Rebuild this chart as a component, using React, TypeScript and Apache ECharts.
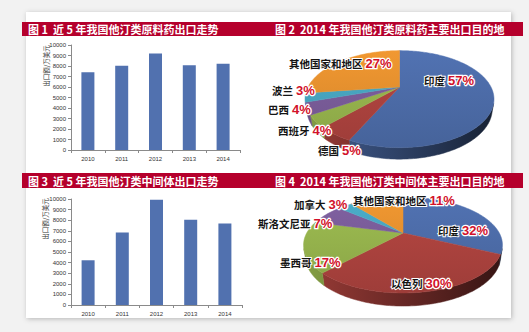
import React, { useEffect, useRef } from 'react';
import * as echarts from 'echarts';

// ---------- data ----------
const years = ['2010', '2011', '2012', '2013', '2014'];
const apiExports = [7400, 8030, 9200, 8060, 8220]; // 万美元
const intermediateExports = [4220, 6830, 9940, 8050, 7680]; // 万美元
const yMax = 10000;
const yStep = 1000;

const apiDestNames = ['印度', '德国', '西班牙', '巴西', '波兰', '其他国家和地区'];
const apiDestShares = [57, 5, 4, 4, 3, 27];
const intDestNames = ['印度', '以色列', '墨西哥', '斯洛文尼亚', '加拿大', '其他国家和地区'];
const intDestShares = [32, 30, 17, 7, 3, 11];

const titles = [
  '图 1  近 5 年我国他汀类原料药出口走势',
  '图 2  2014 年我国他汀类原料药主要出口目的地',
  '图 3  近 5 年我国他汀类中间体出口走势',
  '图 4  2014 年我国他汀类中间体主要出口目的地',
];
const yAxisTitle = '出口额/万美元';

// ---------- styles / layout ----------
const sliceColors = ['#4E6EAB', '#B0443F', '#98B64E', '#7B5D9B', '#48A7C2', '#E8922F'];
const barColor = '#5171AF';
const red = '#B5002C';

type PieLayout = { cx: number; cy: number; B: number; sinA: number; k: number; h: number; labels: number[][] };
const pie1Layout: PieLayout = {
  cx: 399.5, cy: 87, B: 91.5, sinA: 0.497, k: 0.25, h: 0.125,
  labels: [[424, 80], [318, 150], [278, 130], [268, 109], [272, 90], [289, 63]],
};
const pie2Layout: PieLayout = {
  cx: 403, cy: 233, B: 96.3, sinA: 0.467, k: 0.25, h: 0.13,
  labels: [[438, 230], [391, 283], [280, 262], [258, 223], [294, 204], [353, 200]],
};

const shade = (hex: string, f: number) => {
  const n = parseInt(hex.slice(1), 16);
  const c = (v: number) => Math.max(0, Math.min(255, Math.round(v * f)));
  return `rgb(${c((n >> 16) & 255)},${c((n >> 8) & 255)},${c(n & 255)})`;
};

const labelRich = {
  n: { fontSize: 10.5, fontWeight: 'bold', fill: '#141414', fontFamily: 'Noto Sans CJK SC', stroke: '#ffffff', lineWidth: 2 },
  p: { fontSize: 13, fontWeight: 'bold', fill: '#D2122B', fontFamily: 'Liberation Sans', stroke: '#ffffff', lineWidth: 2.5 },
};

function pieRenderer(names: string[], values: number[], L: PieLayout) {
  const total = values.reduce((a, b) => a + b, 0);
  const starts: number[] = [];
  let acc = 0;
  for (const v of values) {
    starts.push((acc / total) * 360);
    acc += v;
  }
  const cosA = Math.sqrt(1 - L.sinA * L.sinA);
  const Dn = cosA / L.k;
  const F = L.B * Dn;
  const proj = (deg: number, r: number, Y: number) => {
    const t = (deg * Math.PI) / 180;
    const X = r * Math.sin(t);
    const Z = r * Math.cos(t);
    const yc = Y * cosA + Z * L.sinA;
    const zc = Dn + Z * cosA - Y * L.sinA;
    return [L.cx + (F * X) / zc, L.cy - (F * yc) / zc];
  };
  const silh = (Math.acos(-L.k / (cosA * cosA)) * 180) / Math.PI;
  const arc = (a0: number, a1: number, Y: number) => {
    const pts: number[][] = [];
    const n = Math.max(2, Math.ceil((a1 - a0) / 1));
    for (let j = 0; j <= n; j++) pts.push(proj(a0 + ((a1 - a0) * j) / n, 1, Y));
    return pts;
  };
  const topY = L.cy - L.B * L.sinA * 0.8;
  const botY = L.cy + L.B * L.sinA * 1.35;
  return (params: any, api: any) => {
    const i = params.dataIndex;
    const v = api.value(0);
    const a0 = starts[i];
    const a1 = a0 + (v / total) * 360;
    const color = sliceColors[i % sliceColors.length];
    const children: any[] = [];
    const w0 = Math.max(a0, silh);
    const w1 = Math.min(a1, 360 - silh);
    if (w1 > w0) {
      const top = arc(w0, w1, 0);
      const bot = arc(w0, w1, -L.h).reverse();
      const wallFill = new echarts.graphic.LinearGradient(
        L.cx - L.B * 1.05, 0, L.cx + L.B * 1.05, 0,
        [
          { offset: 0, color: shade(color, 0.88) },
          { offset: 0.45, color: shade(color, 0.62) },
          { offset: 1, color: shade(color, 0.3) },
        ],
        true
      );
      children.push({
        type: 'polygon', z2: 1,
        shape: { points: top.concat(bot) },
        style: { fill: wallFill, stroke: wallFill, lineWidth: 0.5 },
      });
    }
    const face = [proj(0, 0, 0)].concat(arc(a0, a1, 0));
    const faceFill = new echarts.graphic.LinearGradient(
      0, topY, 0, botY,
      [
        { offset: 0, color: shade(color, 1.04) },
        { offset: 1, color: shade(color, 0.9) },
      ],
      true
    );
    children.push({
      type: 'polygon', z2: 5,
      shape: { points: face },
      style: { fill: faceFill, stroke: faceFill, lineWidth: 0.5 },
    });
    const lp = L.labels[i];
    children.push({
      type: 'text', z2: 10, x: lp[0], y: lp[1],
      style: {
        text: `{n|${names[i]}} {p|${v}%}`,
        rich: labelRich,
        fontSize: 11,
        align: 'left',
        verticalAlign: 'middle',
      },
    });
    return { type: 'group', children };
  };
}

const axisCommon = {
  axisLine: { show: true, lineStyle: { color: '#8a8a8a', width: 1 } },
  axisTick: { show: true, length: 3, lineStyle: { color: '#8a8a8a' } },
  splitLine: { show: false },
};

const titleText = (text: string, x: number, y: number) => ({
  type: 'text', x, y, z: 3,
  style: {
    text, fill: '#ffffff', fontSize: 11, fontWeight: 'bold',
    fontFamily: 'Noto Sans CJK SC', verticalAlign: 'middle', align: 'left',
  },
});

const axisTitle = (x: number, y: number) => ({
  type: 'text', x, y, rotation: Math.PI / 2, z: 3,
  style: {
    text: yAxisTitle, fill: '#333', fontSize: 6.5,
    fontFamily: 'Noto Sans CJK SC', align: 'center', verticalAlign: 'middle',
  },
});

export default function App() {
  const ref = useRef<HTMLDivElement>(null);
  useEffect(() => {
    const chart = echarts.init(ref.current!, null, { renderer: 'svg' });
    const option: any = {
      animation: false,
      backgroundColor: '#F2F2F2',
      graphic: [
        {
          type: 'rect', z: 0, shape: { x: 26, y: 12, width: 485, height: 306 },
          style: { fill: '#ffffff', shadowBlur: 5, shadowColor: 'rgba(0,0,0,0.25)', shadowOffsetX: 1, shadowOffsetY: 1 },
        },
        { type: 'rect', z: 1, shape: { x: 22, y: 22, width: 501, height: 14 }, style: { fill: red } },
        { type: 'rect', z: 1, shape: { x: 22, y: 173, width: 501, height: 15 }, style: { fill: red } },
        titleText(titles[0], 28, 29),
        titleText(titles[1], 275, 29),
        titleText(titles[2], 28, 180.5),
        titleText(titles[3], 275, 180.5),
        axisTitle(45.5, 66),
        axisTitle(44.5, 219),
      ],
      grid: [
        { left: 71, top: 45, width: 169, height: 105 },
        { left: 71, top: 199, width: 171, height: 106 },
      ],
      xAxis: [0, 1].map((g) => ({
        gridIndex: g, type: 'category', data: years, ...axisCommon,
        axisLabel: { fontSize: 6, color: '#333', margin: 6, fontFamily: 'Liberation Sans' },
      })),
      yAxis: [0, 1].map((g) => ({
        gridIndex: g, type: 'value', min: 0, max: yMax, interval: yStep, ...axisCommon,
        axisLabel: {
          fontSize: 6, color: '#333', margin: 5, fontFamily: 'Liberation Sans',
          formatter: (val: number) => String(val),
        },
      })),
      series: [
        {
          type: 'bar', xAxisIndex: 0, yAxisIndex: 0, data: apiExports, barWidth: 13,
          itemStyle: { color: barColor }, silent: true,
        },
        {
          type: 'bar', xAxisIndex: 1, yAxisIndex: 1, data: intermediateExports, barWidth: 13,
          itemStyle: { color: barColor }, silent: true,
        },
        {
          type: 'custom', coordinateSystem: 'none', silent: true,
          renderItem: pieRenderer(apiDestNames, apiDestShares, pie1Layout),
          data: apiDestShares.map((v, i) => ({ name: apiDestNames[i], value: v })),
        },
        {
          type: 'custom', coordinateSystem: 'none', silent: true,
          renderItem: pieRenderer(intDestNames, intDestShares, pie2Layout),
          data: intDestShares.map((v, i) => ({ name: intDestNames[i], value: v })),
        },
      ],
    };
    chart.setOption(option);
    return () => chart.dispose();
  }, []);
  return <div ref={ref} style={{ position: 'fixed', left: 0, top: 0, width: 529, height: 332 }} />;
}
